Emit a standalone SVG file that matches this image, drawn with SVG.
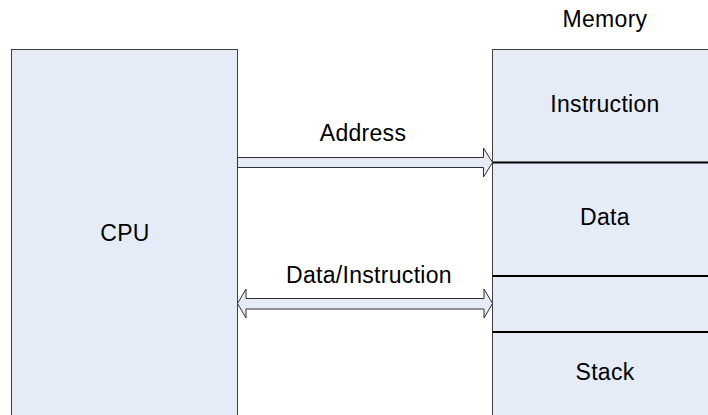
<svg xmlns="http://www.w3.org/2000/svg" width="708" height="415" viewBox="0 0 708 415">
<style>
.box{fill:#e6ecf7;stroke:#404040;stroke-width:1}
.div{stroke:#000;stroke-width:2}
.arr{fill:#e6ecf7;stroke:#303030;stroke-width:1}
text{font-family:"Liberation Sans",Arial,sans-serif;font-size:23px;letter-spacing:0.3px;fill:#000;text-anchor:middle}
</style>
<rect width="708" height="415" fill="#fff"/>
<g id="cpu">
<rect class="box" x="11.5" y="49.5" width="226" height="380"/>
<text x="125" y="241">CPU</text>
</g>
<g id="memory">
<text x="605" y="27">Memory</text>
<rect class="box" x="492.5" y="49.5" width="230" height="380"/>
<line class="div" x1="492.5" y1="162.5" x2="708" y2="162.5"/>
<line class="div" x1="492.5" y1="276" x2="708" y2="276"/>
<line class="div" x1="492.5" y1="332" x2="708" y2="332"/>
<text x="605" y="112">Instruction</text>
<text x="605" y="225">Data</text>
<text x="605" y="380">Stack</text>
</g>
<g id="connectors">
<polygon class="arr" points="237.5,157.5 483.5,157.5 483.5,148 492.5,162.5 483.5,177 483.5,167.5 237.5,167.5"/>
<text x="363" y="141">Address</text>
<polygon class="arr" points="237.5,303.5 246,289 246,298.5 484,298.5 484,289 492.5,303.5 484,318 484,309 246,309 246,318"/>
<text x="369" y="283">Data/Instruction</text>
</g>
</svg>
